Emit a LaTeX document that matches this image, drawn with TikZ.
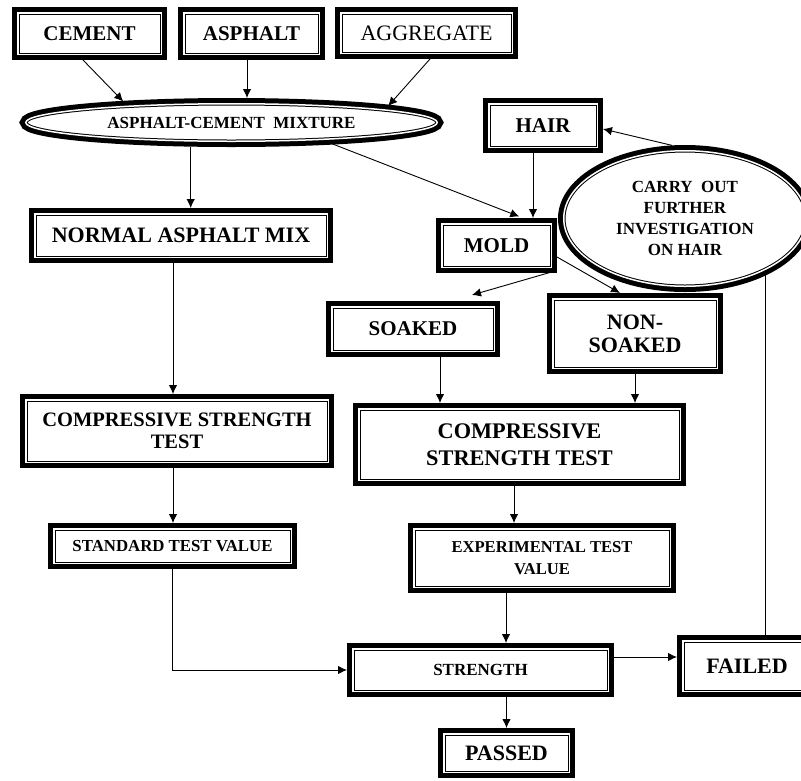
\documentclass[tikz,border=0pt]{standalone}
\usepackage{fontspec}
\setmainfont{Liberation Serif}
\usepackage{tikz}
\usetikzlibrary{arrows.meta,shapes.geometric}

\begin{document}
\begin{tikzpicture}[
    x=1pt, y=-1pt,
    framed/.style={rectangle, fill=white, draw=black, line width=3.5pt,
        preaction={draw=black, line width=11.5pt},
        postaction={draw=white, line width=1.5pt},
        outer sep=5.75pt, inner sep=2pt, align=center,
        font=\bfseries\fontsize{21}{24}\selectfont},
    framedoval/.style={framed, ellipse},
    smalltext/.style={font=\bfseries\fontsize{17}{21}\selectfont},
    bigtext/.style={font=\bfseries\fontsize{22}{24}\selectfont},
    arrow/.style={-{Latex[length=9pt, width=8.5pt]}, line width=0.9pt},
    link/.style={line width=0.9pt}
]
\useasboundingbox (0,0) rectangle (801,780);

% raw materials
\node[framed, minimum width=143.5pt, minimum height=41.5pt] (cement) at (89.5,33.5) {CEMENT};
\node[framed, minimum width=135.5pt, minimum height=41.5pt] (asphalt) at (251.5,33.5) {ASPHALT};
\node[framed, minimum width=171.5pt, minimum height=40.5pt, font=\mdseries\fontsize{22}{24}\selectfont] (aggregate) at (426.5,33) {AGGREGATE};

\node[framedoval, smalltext, minimum width=411.5pt, minimum height=37.5pt] (mix) at (231.5,122.5) {ASPHALT-CEMENT\ \ MIXTURE};
\node[framed, minimum width=108.5pt, minimum height=43.5pt] (hair) at (543,125.5) {HAIR};
\node[framedoval, smalltext, minimum width=242.5pt, minimum height=135.5pt] (invest) at (685,218.5) {CARRY\ \ OUT\\FURTHER\\INVESTIGATION\\ON HAIR};

% left branch
\node[framed, bigtext, minimum width=292.5pt, minimum height=43.5pt] (normal) at (181,235.5) {NORMAL ASPHALT MIX};
\node[framed, font=\bfseries\fontsize{20.5}{21.7}\selectfont, minimum width=302.5pt, minimum height=62.5pt] (compL) at (177,431) {COMPRESSIVE STRENGTH\\TEST};
\node[framed, font=\bfseries\fontsize{16.8}{20}\selectfont, minimum width=237.5pt, minimum height=34.5pt] (standard) at (172.5,546) {STANDARD TEST VALUE};

% right branch
\node[framed, minimum width=109.5pt, minimum height=43.5pt] (mold) at (496.5,245.5) {MOLD};
\node[framed, minimum width=162.5pt, minimum height=44.5pt] (soaked) at (413,329) {SOAKED};
\node[framed, font=\bfseries\fontsize{22}{23}\selectfont, minimum width=164.5pt, minimum height=69.5pt] (nonsoaked) at (635,333.5) {NON-\\SOAKED};
\node[framed, font=\bfseries\fontsize{22.3}{26.7}\selectfont, minimum width=321.5pt, minimum height=71.5pt] (compR) at (519.5,444.5) {COMPRESSIVE\\STRENGTH TEST};
\node[framed, font=\bfseries\fontsize{16.6}{21.7}\selectfont, minimum width=256.5pt, minimum height=58.5pt] (experimental) at (542,558) {EXPERIMENTAL TEST\\VALUE};

% result
\node[framed, smalltext, minimum width=255.5pt, minimum height=42.5pt] (strength) at (480.5,670) {STRENGTH};
\node[framed, bigtext, minimum width=125.5pt, minimum height=38.5pt] (passed) at (506.5,753) {PASSED};
\node[framed, bigtext, minimum width=128.5pt, minimum height=50.5pt] (failed) at (747,666) {FAILED};

% connectors
\draw[arrow] ([xshift=-6.5pt]cement.south) -- (mix.169);
\draw[arrow] ([xshift=-4.5pt]asphalt.south) -- ([xshift=-4.5pt]asphalt.south |- mix.north);
\draw[arrow] ([xshift=3.5pt]aggregate.south) -- (mix.6);
\draw[arrow] ([xshift=9.7pt]normal.north |- mix.south) -- ([xshift=9.7pt]normal.north);
\draw[arrow, shorten >=4pt] (mix.-12) -- ([xshift=26.5pt]mold.north);
\draw[arrow] ([xshift=-10pt]hair.south) -- ([xshift=-10pt]hair.south |- mold.north);
\draw[arrow] ([shift={(-2pt,2pt)}]mold.south east) -- ([xshift=-28pt, yshift=6pt]soaked.north east);
\draw[arrow] ([yshift=-11.5pt]mold.east) -- ([xshift=-15pt]nonsoaked.north);
\draw[arrow] ([xshift=-8pt]normal.south) -- ([xshift=-8pt]normal.south |- compL.north);
\draw[arrow] ([xshift=-4pt]compL.south) -- ([xshift=-4pt]compL.south |- standard.north);
\draw[arrow] ([xshift=27pt]soaked.south) -- ([xshift=27pt]soaked.south |- compR.north);
\draw[arrow] (nonsoaked.south) -- (nonsoaked.south |- compR.north);
\draw[arrow] ([xshift=-5.5pt]compR.south) -- ([xshift=-5.5pt]compR.south |- experimental.north);
\draw[arrow] ([xshift=-36pt]experimental.south) -- ([xshift=-36pt]experimental.south |- strength.north);
\draw[arrow] (standard.south) |- (strength.west);
\draw[arrow] (strength.south -| passed.north) -- (passed.north);
\draw[arrow] ([yshift=13pt]strength.east) -- ([yshift=13pt]strength.east -| failed.west);
\draw[link] ([xshift=18pt]failed.north) -- ([xshift=18pt]failed.north |- invest.-35.5);
\draw[arrow] (invest.100) -- ([yshift=-3.5pt]hair.east);

\end{tikzpicture}
\end{document}
